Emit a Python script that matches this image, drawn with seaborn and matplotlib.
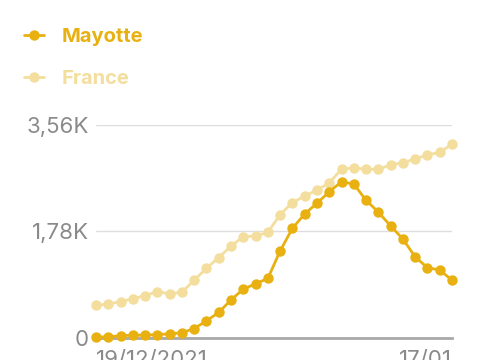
import matplotlib
matplotlib.use("Agg")
import matplotlib.pyplot as plt
import seaborn as sns
import pandas as pd
from matplotlib.lines import Line2D

dates = pd.date_range("2021-12-19", "2022-01-17", freq="D")
mayotte = [0.01, 0.01, 0.03, 0.04, 0.04, 0.05, 0.06, 0.08, 0.15, 0.28,
           0.42, 0.63, 0.81, 0.90, 0.99, 1.45, 1.83, 2.07, 2.25, 2.44,
           2.61, 2.57, 2.30, 2.10, 1.87, 1.65, 1.35, 1.17, 1.13, 0.96]
france = [0.54, 0.56, 0.60, 0.65, 0.70, 0.77, 0.73, 0.76, 0.96, 1.16,
          1.34, 1.53, 1.69, 1.70, 1.76, 2.06, 2.26, 2.37, 2.47, 2.59,
          2.82, 2.84, 2.82, 2.82, 2.89, 2.93, 2.99, 3.06, 3.10, 3.24]
series = ["France", "Mayotte"]
y_ticks = [0, 1.78, 3.56]
y_labels = ["0", "1,78K", "3,56K"]
x_labels = ["19/12/2021", "17/01"]

colors = {"Mayotte": "#E8B111", "France": "#F4DE9E"}

sns.set_theme(style="white")
plt.rcParams["font.family"] = ["Inter", "DejaVu Sans"]

df = pd.DataFrame({
    "day": list(range(len(dates))) * 2,
    "value": france + mayotte,
    "country": ["France"] * len(france) + ["Mayotte"] * len(mayotte),
})

fig = plt.figure(figsize=(4.85, 3.6), dpi=100)
ax = fig.add_axes([96 / 485, 1 - 337.5 / 360, (452 - 96) / 485, (337.5 - 125) / 360])

for name in series:
    sub = df[df["country"] == name]
    sns.lineplot(data=sub, x="day", y="value", ax=ax, color=colors[name],
                 marker="o", markersize=7.5, markeredgewidth=0, linewidth=2,
                 clip_on=False, zorder=3 if name == "Mayotte" else 2,
                 legend=False)

ax.set_xlim(0, len(dates) - 1)
ax.set_ylim(0, 3.56)
ax.set_yticks(y_ticks)
ax.set_yticklabels(y_labels)
ax.set_xticks([0, len(dates) - 1])
ax.set_xticklabels(x_labels)
xl = ax.get_xticklabels()
xl[0].set_horizontalalignment("left")
xl[1].set_horizontalalignment("right")
ax.tick_params(axis="both", length=0, labelsize=16, colors="#8a8a8a")
ax.tick_params(axis="y", pad=5)
ax.tick_params(axis="x", pad=9)
ax.set_xlabel("")
ax.set_ylabel("")
for s in ["top", "right", "left"]:
    ax.spines[s].set_visible(False)
ax.spines["bottom"].set_color("#a9a9a9")
ax.spines["bottom"].set_linewidth(2)
ax.grid(axis="y", color="#dedede", linewidth=1)
ax.grid(axis="x", visible=False)
ax.set_axisbelow(True)

handles = [Line2D([0], [0], color=colors[n], marker="o", markersize=7.5,
                  markeredgewidth=0, linewidth=2) for n in ["Mayotte", "France"]]
leg = fig.legend(handles, ["Mayotte", "France"], loc="upper left",
                 bbox_to_anchor=(16 / 485, 1 - 20 / 360), frameon=False,
                 fontsize=14.5, handlelength=1.0, handletextpad=0.85,
                 labelspacing=1.2, borderaxespad=0)
for t, n in zip(leg.get_texts(), ["Mayotte", "France"]):
    t.set_color(colors[n])
    t.set_fontweight("bold")

fig.savefig("out.png", dpi=100)
